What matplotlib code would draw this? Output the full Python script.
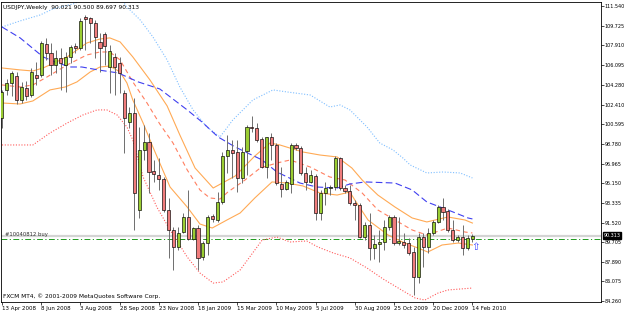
import matplotlib
matplotlib.use("Agg")
import matplotlib.pyplot as plt
import matplotlib.transforms as mtransforms

# weekly USDJPY candles, bar 0 = 13 Apr 2008 ... bar 96 = 14 Feb 2010
opens = [101.19, 103.78, 104.42, 105.07, 102.85, 103.96, 103.31, 105.16, 105.16, 108.03,
         107.20, 106.09, 106.74, 106.09, 106.83, 107.85, 107.66, 110.53, 110.44, 109.97,
         108.22, 108.96, 105.90, 106.83, 106.27, 103.50, 100.82, 101.65, 92.68, 98.23,
         98.97, 96.28, 95.91, 95.54, 92.68, 90.83, 89.25, 90.64, 92.03, 89.99,
         91.01, 88.33, 89.62, 92.12, 91.75, 93.42, 97.67, 98.23, 98.04, 95.64,
         98.13, 100.35, 100.26, 99.24, 96.65, 99.43, 98.69, 95.08, 94.62, 95.08,
         98.69, 98.41, 96.10, 95.27, 95.82, 92.40, 94.25, 94.71, 94.80, 97.49,
         94.71, 94.43, 93.32, 93.14, 90.18, 91.29, 89.16, 89.53, 89.72, 91.10,
         92.03, 89.62, 89.72, 89.62, 88.79, 86.48, 90.18, 89.25, 90.55, 91.57,
         92.95, 92.58, 90.83, 89.90, 90.18, 89.16, 90.021]
highs = [103.78, 104.79, 105.53, 105.44, 104.52, 104.61, 105.81, 106.37, 108.31, 108.59,
         108.12, 107.48, 107.66, 107.29, 107.94, 108.12, 110.44, 110.71, 110.53, 110.25,
         109.05, 109.14, 107.94, 107.20, 106.83, 103.78, 102.20, 103.04, 100.35, 100.54,
         99.80, 97.30, 97.49, 95.73, 93.79, 91.10, 91.10, 92.40, 94.53, 91.10,
         91.29, 89.81, 92.21, 92.31, 94.34, 98.04, 99.61, 99.15, 99.15, 98.50,
         100.54, 101.37, 100.72, 99.43, 99.43, 99.80, 98.87, 96.65, 95.45, 98.87,
         98.87, 98.60, 96.65, 96.38, 96.01, 94.53, 95.27, 94.99, 97.67, 97.58,
         94.99, 94.99, 93.60, 93.32, 91.57, 92.40, 90.36, 90.83, 91.75, 92.21,
         92.21, 92.03, 90.55, 90.09, 89.25, 90.55, 90.55, 91.01, 91.75, 93.14,
         93.79, 92.77, 91.75, 90.36, 91.29, 90.36, 90.500]
lows = [100.26, 103.31, 103.22, 102.48, 102.57, 102.85, 103.13, 104.24, 104.98, 106.55,
        105.16, 105.35, 103.78, 103.59, 106.27, 107.20, 107.48, 107.48, 108.12, 106.74,
        105.44, 106.09, 103.50, 103.31, 103.50, 97.95, 100.26, 90.83, 91.94, 97.30,
        94.25, 95.27, 94.53, 92.49, 88.24, 87.13, 88.98, 90.55, 89.90, 89.90,
        87.13, 88.05, 88.51, 91.57, 91.57, 93.23, 96.10, 95.64, 94.34, 95.17,
        95.91, 99.89, 98.97, 96.56, 95.64, 97.30, 94.99, 93.88, 94.53, 94.25,
        98.23, 95.91, 94.53, 95.17, 91.75, 91.75, 93.14, 94.06, 94.53, 94.53,
        94.25, 93.14, 91.75, 90.09, 89.90, 88.05, 88.14, 87.87, 88.98, 90.83,
        89.44, 89.44, 89.16, 88.51, 84.81, 85.92, 87.40, 88.70, 90.36, 91.47,
        91.75, 90.64, 89.72, 89.72, 88.51, 88.98, 89.697]
closes = [103.59, 104.42, 105.35, 102.85, 104.05, 103.22, 105.44, 104.89, 108.12, 107.20,
          106.09, 106.74, 106.27, 106.83, 107.75, 107.66, 110.16, 110.34, 109.97, 108.68,
          107.66, 107.85, 107.38, 105.90, 105.35, 101.19, 101.65, 94.25, 98.23, 98.97,
          96.19, 96.01, 95.54, 92.68, 90.83, 89.25, 90.55, 92.03, 89.99, 91.01,
          88.24, 89.62, 92.03, 91.84, 93.42, 97.67, 98.23, 97.95, 95.64, 98.04,
          100.35, 100.26, 99.15, 96.65, 99.43, 98.69, 95.17, 94.62, 95.27, 98.69,
          98.41, 96.10, 95.27, 95.91, 92.40, 94.25, 94.71, 94.80, 97.49, 94.71,
          94.43, 93.32, 93.14, 90.18, 91.29, 89.16, 89.53, 89.72, 91.10, 92.03,
          89.62, 89.81, 89.44, 88.70, 86.48, 90.18, 89.25, 90.55, 91.57, 92.95,
          92.49, 90.83, 89.90, 90.18, 89.16, 90.09, 90.313]

ma_bars = [0, 3.7, 8.4, 11.4, 13.9, 16.3, 19.6, 23.7, 27.8, 32.2, 37.8, 40.8, 44.1, 47.6,
           53.1, 56.1, 60.8, 64.3, 68.4, 71.0, 74.1, 80.2, 83.7, 86.7, 91.0, 95.1, 96]
ma_vals = [109.60, 108.59, 106.83, 106.27, 105.90, 105.90, 105.63, 105.35, 104.52, 103.87,
           101.93, 100.82, 99.43, 98.50, 97.30, 96.19, 95.17, 94.80, 94.71, 95.08, 95.27,
           95.17, 94.53, 93.42, 92.68, 91.94, 91.85]

upper_bars = [0, 3.7, 6.3, 8.4, 13.3, 17.3, 20, 22, 24.1, 26.7, 30.2, 33.7, 36.3, 39.4,
              43.1, 47.6, 51.6, 54.7, 56.7, 61.4, 64.9, 68.4, 71.4, 73.5, 76.7, 80.2,
              83.7, 86.7, 91.0, 94.5, 96]
upper_vals = [105.81, 105.63, 105.53, 105.81, 106.83, 108.12, 108.49, 108.59, 108.22, 106.83,
              104.70, 102.30, 99.61, 96.56, 94.71, 95.82, 97.67, 98.87, 98.69, 98.04,
              97.76, 97.58, 96.56, 95.45, 94.06, 92.95, 91.94, 91.57, 92.03, 91.75, 91.47]

mid_bars = [0, 3.7, 6.3, 9.2, 13.3, 17.3, 20, 22, 24.1, 26.7, 29.6, 32.2, 34.9, 37.8,
            40.4, 42.4, 44.5, 46.1, 49.6, 52.7, 56.1, 58.8, 62.9, 66.9, 70, 73.5, 76.7,
            80.2, 83.7, 86.7, 91.0, 94.5, 96]
mid_vals = [104.24, 104.05, 104.24, 104.98, 106.09, 107.01, 107.29, 107.29, 106.55, 104.52,
            102.57, 100.63, 98.87, 96.38, 94.53, 93.79, 93.69, 94.34, 95.45, 96.56, 97.02,
            97.30, 96.65, 95.73, 95.45, 94.25, 92.68, 91.75, 90.83, 90.36, 91.01, 90.64, 90.55]

lower_bars = [0, 3.7, 6.3, 9.8, 12.9, 15.3, 18, 20, 22, 24.1, 25.5, 26.7, 28.8, 30.8,
              34.3, 37.8, 40.4, 42.9, 45.9, 48.6, 51.6, 55.1, 58.2, 61.4, 64.9, 68.4,
              71.0, 72.0, 74.7, 78.8, 82.2, 84.9, 86.9, 89.8, 93.1, 96]
lower_vals = [102.57, 102.48, 102.76, 103.78, 104.05, 104.52, 105.44, 105.90, 105.99, 105.44,
              104.42, 102.85, 100.72, 98.50, 94.80, 92.95, 91.38, 91.01, 91.75, 92.40,
              93.79, 95.27, 95.17, 94.90, 94.25, 94.06, 94.34, 93.60, 91.75, 90.36, 89.62,
              89.16, 88.79, 89.44, 89.62, 89.44]

outer_up_bars = [0, 3.7, 7.8, 10.4, 14.5, 18, 21, 23.7, 25.5, 28.2, 30.8, 33.7, 36.3, 39,
                 41.8, 44.5, 47.1, 51.2, 55.3, 58.2, 62.9, 66.9, 69, 71, 74.5, 77.1, 79.8,
                 81.8, 83.3, 86.7, 90, 93.5, 96]
outer_up_vals = [109.60, 110.16, 110.71, 111.27, 111.73, 112.38, 113.03, 112.56, 111.45, 110.25,
                 108.68, 106.55, 104.05, 101.93, 100.35, 99.43, 101.00, 102.85, 103.78, 103.59,
                 103.31, 102.20, 102.39, 101.93, 100.35, 98.87, 98.23, 97.49, 96.84, 96.10,
                 96.19, 96.10, 95.64]

outer_dn_bars = [0, 6.3, 9.8, 13.3, 16.5, 19.4, 21.4, 23.5, 25.5, 26.7, 28.8, 31.6, 34.3,
                 37.8, 40.4, 43.1, 45.1, 48.6, 53.1, 56.1, 58.8, 62.2, 64.5, 67.6, 71,
                 74.5, 77.8, 81.2, 84.3, 86.3, 89, 91, 96]
outer_dn_vals = [98.69, 98.69, 99.80, 100.72, 101.46, 101.93, 101.93, 101.46, 100.35, 99.15,
                 95.73, 92.95, 90.83, 88.33, 86.85, 85.92, 86.02, 87.13, 89.90, 90.18, 89.72,
                 89.81, 89.25, 88.70, 88.24, 87.31, 86.29, 85.37, 84.54, 84.35, 85.00, 85.28,
                 85.46]

date_bars = [0, 8, 16, 24, 32, 40, 48, 56, 64, 72, 80, 88, 96]
date_labels = ["13 Apr 2008", "8 Jun 2008", "3 Aug 2008", "28 Sep 2008", "23 Nov 2008",
               "18 Jan 2009", "15 Mar 2009", "10 May 2009", "5 Jul 2009", "30 Aug 2009",
               "25 Oct 2009", "20 Dec 2009", "14 Feb 2010"]
price_ticks = [111.540, 109.725, 107.910, 106.095, 104.280, 102.410, 100.595, 98.780,
               96.965, 95.150, 93.335, 91.520, 89.705, 87.890, 86.075, 84.260]

bid_price = 90.313
order_price = 89.97
arrow_bar, arrow_price = 96.7, 89.25

W, H = 625, 313
fig = plt.figure(figsize=(W / 100, H / 100), dpi=100, facecolor="white")
ax = fig.add_axes([1 / W, 11.5 / H, 600 / W, 300 / H])
ax.set_facecolor("white")
ax.set_xlim(-0.2, 122.24)
ax.set_ylim(84.215, 111.956)

# bid line + order line
ax.axhline(bid_price, color="#d4d4d4", lw=1.6, zorder=0.5)
ax.axhline(order_price, color="#1f9a1f", lw=0.7, ls=(0, (6, 2.5, 1.2, 2.5)), zorder=0.6)

# indicators
ax.plot(outer_up_bars, outer_up_vals, color="#7fbfff", lw=0.8, ls=(0, (1, 1.5)), zorder=1)
ax.plot(outer_dn_bars, outer_dn_vals, color="#ff5a5a", lw=0.8, ls=(0, (1, 1.5)), zorder=1)
ax.plot(upper_bars, upper_vals, color="#ffaa55", lw=0.8, zorder=1)
ax.plot(lower_bars, lower_vals, color="#ffaa55", lw=0.8, zorder=1)
ax.plot(mid_bars, mid_vals, color="#ff7f60", lw=0.8, ls=(0, (4, 3)), zorder=1)
ax.plot(ma_bars, ma_vals, color="#3f3ff0", lw=0.8, ls=(0, (6, 3)), zorder=1)

# candles
for i, (o, h, l, c) in enumerate(zip(opens, highs, lows, closes)):
    up = c >= o
    ax.vlines(i, l, h, color="#6e6e6e", lw=0.7, zorder=2)
    body = max(abs(c - o), 0.06)
    ax.bar(i, body, bottom=min(o, c), width=0.62,
           color="#9acd32" if up else "#f07c7c", edgecolor="black", linewidth=0.45, zorder=3)

ax.text(arrow_bar, arrow_price, "\u21e7", color="#3b3bff", fontsize=7.5,
        ha="center", va="center", zorder=4)

# axes styling
for s in ax.spines.values():
    s.set_color("black")
    s.set_linewidth(0.6)
ax.yaxis.tick_right()
ax.set_yticks(price_ticks)
ax.set_yticklabels([f"{p:.3f}" for p in price_ticks])
ax.tick_params(axis="y", length=2, width=0.5, labelsize=3.5, pad=0.8, colors="black")
ax.set_xticks(date_bars)
ax.set_xticklabels(date_labels, ha="left")
ax.tick_params(axis="x", length=2, width=0.5, labelsize=4, pad=1.5, colors="black")

trans = mtransforms.blended_transform_factory(ax.transAxes, ax.transData)
ax.text(1.004, bid_price, "90.313", transform=trans, color="white", fontsize=3.5,
        ha="left", va="center", zorder=6, clip_on=False,
        bbox=dict(boxstyle="square,pad=0.12", fc="black", ec="black"))

fig.text(3 / W, 1 - 8 / H, "USDJPY,Weekly  90.021 90.500 89.697 90.313", fontsize=4.2,
         ha="left", va="center", color="black")
fig.text(3 / W, 1 - 296 / H, "FXCM MT4, \u00a9 2001-2009 MetaQuotes Software Corp.", fontsize=4.2,
         ha="left", va="center", color="black")
fig.text(5 / W, 1 - 234.5 / H, "#10040812 buy", fontsize=3.8, ha="left", va="center",
         color="#303030")

fig.savefig("out.png", dpi=100, facecolor="white")
